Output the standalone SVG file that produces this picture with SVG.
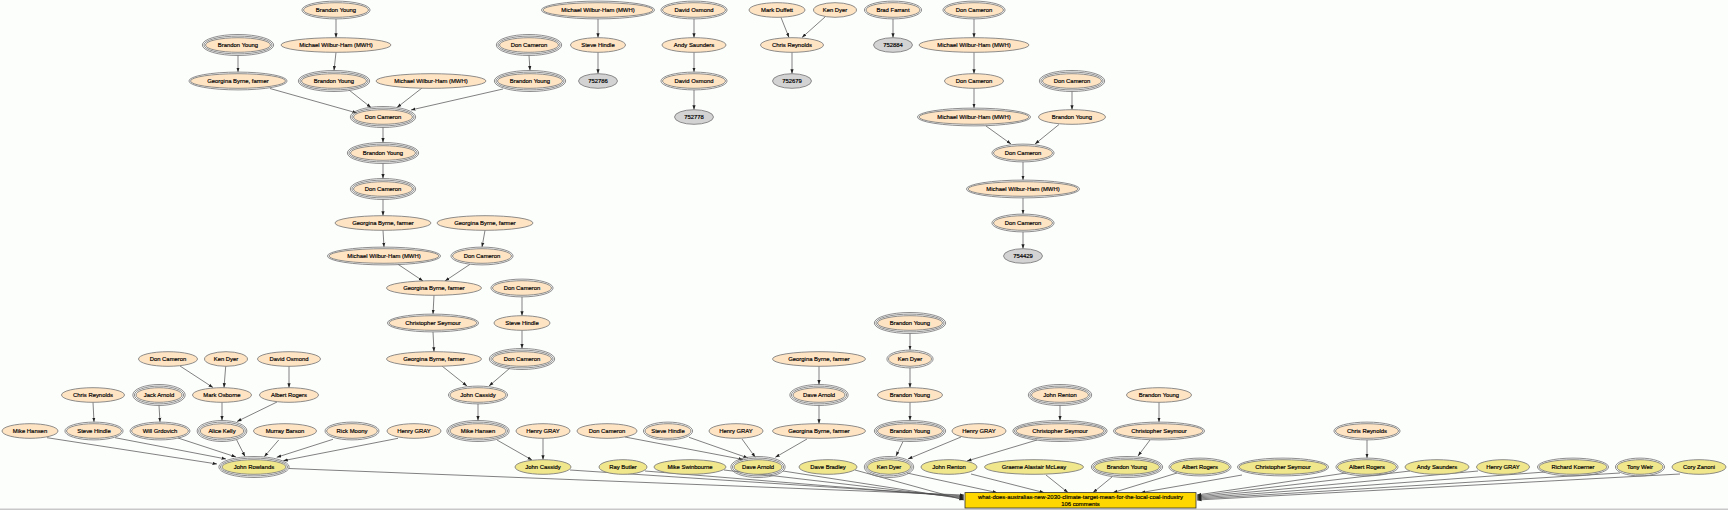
<svg xmlns="http://www.w3.org/2000/svg" width="1728" height="510" viewBox="0 0 1728 510">
<defs>
<marker id="arr" markerWidth="5" markerHeight="4" refX="4.5" refY="2" orient="auto" markerUnits="userSpaceOnUse"><path d="M0,0.4 L4.5,2 L0,3.6 z" fill="#222"/></marker>
</defs>
<style>
ellipse{stroke:#7a7a7a;stroke-width:.85}
.b ellipse{fill:#ffe4c4}
.k ellipse{fill:#f0e68c}
.g ellipse{fill:#d3d3d3}
ellipse.r{fill:none}
text{font-family:"Liberation Sans",Arial,sans-serif;font-size:5.9px;text-anchor:middle;fill:#000;stroke:#000;stroke-width:.18}
#edges path{fill:none;stroke:#4a4a4a;stroke-width:.7;marker-end:url(#arr)}
</style>
<rect width="1728" height="510" fill="#fcfefc"/>
<line x1="0" y1="509.2" x2="1728" y2="509.2" stroke="#c8c8c8" stroke-width="1.5"/>

<g id="edges">
<path d="M336,18.9 L336,37.7"/>
<path d="M336,52.3 L334,70.5"/>
<path d="M238,55.5 L238,72.1"/>
<path d="M529,55.5 L530,70.5"/>
<path d="M270,88.5 L357,113"/>
<path d="M349,90 L371,107.5"/>
<path d="M422,88 L397,107.5"/>
<path d="M503,89 L411,110"/>
<path d="M383,127.5 L383,142.5"/>
<path d="M383,163.5 L383,178.5"/>
<path d="M383,199.5 L383,215.7"/>
<path d="M383,230.3 L384,247.1"/>
<path d="M485,230.3 L482,247.1"/>
<path d="M398,264.3 L423,281"/>
<path d="M470,264.3 L445,281"/>
<path d="M434,295.3 L433,314.1"/>
<path d="M522,296.9 L522,315.7"/>
<path d="M433,331.9 L434,351.7"/>
<path d="M522,330.3 L522,348.5"/>
<path d="M442,366 L467,386"/>
<path d="M510,368 L489,386"/>
<path d="M478,403.9 L478,420.5"/>
<path d="M497,440 L532,460"/>
<path d="M543,438.3 L543,459.7"/>
<path d="M598,18.9 L598,37.7"/>
<path d="M598,52.3 L598,73.7"/>
<path d="M694,18.9 L694,37.7"/>
<path d="M694,52.3 L694,72.1"/>
<path d="M694,89.9 L694,109.7"/>
<path d="M781,17.5 L789,37.5"/>
<path d="M825,17 L802,37.5"/>
<path d="M792,52.3 L792,73.7"/>
<path d="M893,18.9 L893,37.7"/>
<path d="M974,18.9 L974,37.7"/>
<path d="M974,52.3 L974,73.7"/>
<path d="M974,88.3 L974,108.1"/>
<path d="M1072,91.5 L1072,109.7"/>
<path d="M986,126 L1011,144"/>
<path d="M1059,124.5 L1035,144"/>
<path d="M1023,161.9 L1023,180.1"/>
<path d="M1023,197.9 L1023,214.1"/>
<path d="M1023,231.9 L1023,248.7"/>
<path d="M180,366 L213,387.5"/>
<path d="M225.7,366.3 L224,387.7"/>
<path d="M289,366.3 L289,387.7"/>
<path d="M93,402.3 L94,422.1"/>
<path d="M159,405.5 L160,422.1"/>
<path d="M222,402.3 L222,420.5"/>
<path d="M277,402 L237,421.5"/>
<path d="M47,437.7 L217,464"/>
<path d="M115,437.7 L226,459"/>
<path d="M178,438 L236,457"/>
<path d="M236.7,440 L245,456.5"/>
<path d="M278.7,440 L264.3,456.7"/>
<path d="M333,439.3 L276.7,457.3"/>
<path d="M398,438.3 L283.3,460.7"/>
<path d="M819,366.3 L819,384.5"/>
<path d="M819,405.5 L819,423.7"/>
<path d="M625,437 L743,459.5"/>
<path d="M689,437.3 L748,458"/>
<path d="M742,439 L755.3,457.3"/>
<path d="M807,439 L775.3,457.3"/>
<path d="M910,333.5 L910,350.1"/>
<path d="M910,367.9 L910,387.7"/>
<path d="M910,402.3 L910,420.5"/>
<path d="M903,441.5 L896,456"/>
<path d="M961,437 L908,459"/>
<path d="M1060,405.5 L1060,420.5"/>
<path d="M1037,440 L967,461"/>
<path d="M1159,402.3 L1159,422.1"/>
<path d="M1150,440 L1138,456"/>
<path d="M1367,439.9 L1367,458.1"/>
<path d="M289,468.5 L964,495"/>
<path d="M570,470 L964,496"/>
<path d="M645,471 L964,497"/>
<path d="M724,470 L964,498"/>
<path d="M783,471 L964,499"/>
<path d="M855,470 L964,500"/>
<path d="M907,473 L997,492.6"/>
<path d="M971,474 L1044,492.6"/>
<path d="M1046,475 L1068,492.6"/>
<path d="M1112,477 L1093,492.6"/>
<path d="M1177,473 L1113,492.6"/>
<path d="M1242,475 L1141,492.6"/>
<path d="M1346,473 L1197,495"/>
<path d="M1410,471 L1197,496"/>
<path d="M1478,471 L1197,497"/>
<path d="M1545,472 L1197,498"/>
<path d="M1620,473 L1197,499"/>
<path d="M1680,474 L1197,500"/>
</g>

<g id="a1" class="b"><ellipse cx="336" cy="10" rx="32.5" ry="7.3"/><ellipse class="r" cx="336" cy="10" rx="34.1" ry="8.9"/><text x="336" y="12">Brandon Young</text></g>
<g id="a9" class="b"><ellipse cx="598" cy="10" rx="55" ry="7.3"/><ellipse class="r" cx="598" cy="10" rx="56.6" ry="8.9"/><text x="598" y="12">Michael Wilbur-Ham (MWH)</text></g>
<g id="a14" class="b"><ellipse cx="694" cy="10" rx="31.5" ry="7.3"/><ellipse class="r" cx="694" cy="10" rx="33.1" ry="8.9"/><text x="694" y="12">David Osmond</text></g>
<g id="a18" class="b"><ellipse cx="777" cy="10" rx="28" ry="7.3"/><text x="777" y="12">Mark Duffett</text></g>
<g id="a19" class="b"><ellipse cx="835" cy="10" rx="21.5" ry="7.3"/><text x="835" y="12">Ken Dyer</text></g>
<g id="a22" class="b"><ellipse cx="893" cy="10" rx="27" ry="7.3"/><ellipse class="r" cx="893" cy="10" rx="28.6" ry="8.9"/><text x="893" y="12">Brad Farrant</text></g>
<g id="a24" class="b"><ellipse cx="974" cy="10" rx="29.5" ry="7.3"/><ellipse class="r" cx="974" cy="10" rx="31.1" ry="8.9"/><text x="974" y="12">Don Cameron</text></g>

<g id="a2" class="b"><ellipse cx="238" cy="45" rx="32.5" ry="7.3"/><ellipse class="r" cx="238" cy="45" rx="34.1" ry="8.9"/><ellipse class="r" cx="238" cy="45" rx="35.7" ry="10.5"/><text x="238" y="47">Brandon Young</text></g>
<g id="a3" class="b"><ellipse cx="336" cy="45" rx="55" ry="7.3"/><text x="336" y="47">Michael Wilbur-Ham (MWH)</text></g>
<g id="a10" class="b"><ellipse cx="529" cy="45" rx="29.5" ry="7.3"/><ellipse class="r" cx="529" cy="45" rx="31.1" ry="8.9"/><ellipse class="r" cx="529" cy="45" rx="32.7" ry="10.5"/><text x="529" y="47">Don Cameron</text></g>
<g id="a12" class="b"><ellipse cx="598" cy="45" rx="27.5" ry="7.3"/><text x="598" y="47">Steve Hindle</text></g>
<g id="a15" class="b"><ellipse cx="694" cy="45" rx="32" ry="7.3"/><text x="694" y="47">Andy Saunders</text></g>
<g id="a20" class="b"><ellipse cx="792" cy="45" rx="31.5" ry="7.3"/><text x="792" y="47">Chris Reynolds</text></g>
<g id="a23" class="g"><ellipse cx="893" cy="45" rx="19.5" ry="7.3"/><text x="893" y="47">752884</text></g>
<g id="a25" class="b"><ellipse cx="974" cy="45" rx="55" ry="7.3"/><text x="974" y="47">Michael Wilbur-Ham (MWH)</text></g>

<g id="a4" class="b"><ellipse cx="238" cy="81" rx="47.5" ry="7.3"/><ellipse class="r" cx="238" cy="81" rx="49.1" ry="8.9"/><text x="238" y="83">Georgina Byrne, farmer</text></g>
<g id="a5" class="b"><ellipse cx="334" cy="81" rx="32.5" ry="7.3"/><ellipse class="r" cx="334" cy="81" rx="34.1" ry="8.9"/><ellipse class="r" cx="334" cy="81" rx="35.7" ry="10.5"/><text x="334" y="83">Brandon Young</text></g>
<g id="a6" class="b"><ellipse cx="431" cy="81" rx="55" ry="7.3"/><text x="431" y="83">Michael Wilbur-Ham (MWH)</text></g>
<g id="a11" class="b"><ellipse cx="530" cy="81" rx="32.5" ry="7.3"/><ellipse class="r" cx="530" cy="81" rx="34.1" ry="8.9"/><ellipse class="r" cx="530" cy="81" rx="35.7" ry="10.5"/><text x="530" y="83">Brandon Young</text></g>
<g id="a13" class="g"><ellipse cx="598" cy="81" rx="19.5" ry="7.3"/><text x="598" y="83">752786</text></g>
<g id="a16" class="b"><ellipse cx="694" cy="81" rx="31.5" ry="7.3"/><ellipse class="r" cx="694" cy="81" rx="33.1" ry="8.9"/><text x="694" y="83">David Osmond</text></g>
<g id="a21" class="g"><ellipse cx="792" cy="81" rx="19.5" ry="7.3"/><text x="792" y="83">752679</text></g>
<g id="a26" class="b"><ellipse cx="974" cy="81" rx="29.5" ry="7.3"/><text x="974" y="83">Don Cameron</text></g>
<g id="a27" class="b"><ellipse cx="1072" cy="81" rx="29.5" ry="7.3"/><ellipse class="r" cx="1072" cy="81" rx="31.1" ry="8.9"/><ellipse class="r" cx="1072" cy="81" rx="32.7" ry="10.5"/><text x="1072" y="83">Don Cameron</text></g>

<g id="a7" class="b"><ellipse cx="383" cy="117" rx="29.5" ry="7.3"/><ellipse class="r" cx="383" cy="117" rx="31.1" ry="8.9"/><ellipse class="r" cx="383" cy="117" rx="32.7" ry="10.5"/><text x="383" y="119">Don Cameron</text></g>
<g id="a17" class="g"><ellipse cx="694" cy="117" rx="19.5" ry="7.3"/><text x="694" y="119">752778</text></g>
<g id="a28" class="b"><ellipse cx="974" cy="117" rx="55" ry="7.3"/><ellipse class="r" cx="974" cy="117" rx="56.6" ry="8.9"/><text x="974" y="119">Michael Wilbur-Ham (MWH)</text></g>
<g id="a29" class="b"><ellipse cx="1072" cy="117" rx="33.5" ry="7.3"/><text x="1072" y="119">Brandon Young</text></g>

<g id="a8" class="b"><ellipse cx="383" cy="153" rx="32.5" ry="7.3"/><ellipse class="r" cx="383" cy="153" rx="34.1" ry="8.9"/><ellipse class="r" cx="383" cy="153" rx="35.7" ry="10.5"/><text x="383" y="155">Brandon Young</text></g>
<g id="a30" class="b"><ellipse cx="1023" cy="153" rx="29.5" ry="7.3"/><ellipse class="r" cx="1023" cy="153" rx="31.1" ry="8.9"/><text x="1023" y="155">Don Cameron</text></g>

<g id="a35" class="b"><ellipse cx="383" cy="189" rx="29.5" ry="7.3"/><ellipse class="r" cx="383" cy="189" rx="31.1" ry="8.9"/><ellipse class="r" cx="383" cy="189" rx="32.7" ry="10.5"/><text x="383" y="191">Don Cameron</text></g>
<g id="a31" class="b"><ellipse cx="1023" cy="189" rx="55" ry="7.3"/><ellipse class="r" cx="1023" cy="189" rx="56.6" ry="8.9"/><text x="1023" y="191">Michael Wilbur-Ham (MWH)</text></g>

<g id="a36" class="b"><ellipse cx="383" cy="223" rx="48" ry="7.3"/><text x="383" y="225">Georgina Byrne, farmer</text></g>
<g id="a40" class="b"><ellipse cx="485" cy="223" rx="48" ry="7.3"/><text x="485" y="225">Georgina Byrne, farmer</text></g>
<g id="a32" class="b"><ellipse cx="1023" cy="223" rx="29.5" ry="7.3"/><ellipse class="r" cx="1023" cy="223" rx="31.1" ry="8.9"/><text x="1023" y="225">Don Cameron</text></g>

<g id="a37" class="b"><ellipse cx="384" cy="256" rx="55" ry="7.3"/><ellipse class="r" cx="384" cy="256" rx="56.6" ry="8.9"/><text x="384" y="258">Michael Wilbur-Ham (MWH)</text></g>
<g id="a41" class="b"><ellipse cx="482" cy="256" rx="29.5" ry="7.3"/><ellipse class="r" cx="482" cy="256" rx="31.1" ry="8.9"/><text x="482" y="258">Don Cameron</text></g>
<g id="a33" class="g"><ellipse cx="1023" cy="256" rx="19.5" ry="7.3"/><text x="1023" y="258">754429</text></g>

<g id="a38" class="b"><ellipse cx="434" cy="288" rx="47.5" ry="7.3"/><text x="434" y="290">Georgina Byrne, farmer</text></g>
<g id="a42" class="b"><ellipse cx="522" cy="288" rx="29.5" ry="7.3"/><ellipse class="r" cx="522" cy="288" rx="31.1" ry="8.9"/><text x="522" y="290">Don Cameron</text></g>

<g id="a39" class="b"><ellipse cx="433" cy="323" rx="44" ry="7.3"/><ellipse class="r" cx="433" cy="323" rx="45.6" ry="8.9"/><text x="433" y="325">Christopher Seymour</text></g>
<g id="a43" class="b"><ellipse cx="522" cy="323" rx="28" ry="7.3"/><text x="522" y="325">Steve Hindle</text></g>
<g id="a74" class="b"><ellipse cx="910" cy="323" rx="32.5" ry="7.3"/><ellipse class="r" cx="910" cy="323" rx="34.1" ry="8.9"/><ellipse class="r" cx="910" cy="323" rx="35.7" ry="10.5"/><text x="910" y="325">Brandon Young</text></g>

<g id="a44" class="b"><ellipse cx="168" cy="359" rx="29.5" ry="7.3"/><text x="168" y="361">Don Cameron</text></g>
<g id="a45" class="b"><ellipse cx="226" cy="359" rx="21.5" ry="7.3"/><text x="226" y="361">Ken Dyer</text></g>
<g id="a46" class="b"><ellipse cx="289" cy="359" rx="31.5" ry="7.3"/><text x="289" y="361">David Osmond</text></g>
<g id="a47" class="b"><ellipse cx="434" cy="359" rx="47.5" ry="7.3"/><text x="434" y="361">Georgina Byrne, farmer</text></g>
<g id="a48" class="b"><ellipse cx="522" cy="359" rx="29.5" ry="7.3"/><ellipse class="r" cx="522" cy="359" rx="31.1" ry="8.9"/><ellipse class="r" cx="522" cy="359" rx="32.7" ry="10.5"/><text x="522" y="361">Don Cameron</text></g>
<g id="a68" class="b"><ellipse cx="819" cy="359" rx="46.5" ry="7.3"/><text x="819" y="361">Georgina Byrne, farmer</text></g>
<g id="a75" class="b"><ellipse cx="910" cy="359" rx="21.5" ry="7.3"/><ellipse class="r" cx="910" cy="359" rx="23.1" ry="8.9"/><text x="910" y="361">Ken Dyer</text></g>

<g id="b48" class="b"><ellipse cx="93" cy="395" rx="31.5" ry="7.3"/><text x="93" y="397">Chris Reynolds</text></g>
<g id="b49" class="b"><ellipse cx="159" cy="395" rx="23" ry="7.3"/><ellipse class="r" cx="159" cy="395" rx="24.6" ry="8.9"/><ellipse class="r" cx="159" cy="395" rx="26.2" ry="10.5"/><text x="159" y="397">Jack Arnold</text></g>
<g id="b50" class="b"><ellipse cx="222" cy="395" rx="29.5" ry="7.3"/><text x="222" y="397">Mark Osborne</text></g>
<g id="b51" class="b"><ellipse cx="289" cy="395" rx="29.5" ry="7.3"/><text x="289" y="397">Albert Rogers</text></g>
<g id="b60" class="b"><ellipse cx="478" cy="395" rx="28" ry="7.3"/><ellipse class="r" cx="478" cy="395" rx="29.6" ry="8.9"/><text x="478" y="397">John Cassidy</text></g>
<g id="b69" class="b"><ellipse cx="819" cy="395" rx="26" ry="7.3"/><ellipse class="r" cx="819" cy="395" rx="27.6" ry="8.9"/><ellipse class="r" cx="819" cy="395" rx="29.2" ry="10.5"/><text x="819" y="397">Dave Arnold</text></g>
<g id="b76" class="b"><ellipse cx="910" cy="395" rx="32.5" ry="7.3"/><text x="910" y="397">Brandon Young</text></g>
<g id="b82" class="b"><ellipse cx="1060" cy="395" rx="28.5" ry="7.3"/><ellipse class="r" cx="1060" cy="395" rx="30.1" ry="8.9"/><ellipse class="r" cx="1060" cy="395" rx="31.7" ry="10.5"/><text x="1060" y="397">John Renton</text></g>
<g id="b84" class="b"><ellipse cx="1159" cy="395" rx="32.5" ry="7.3"/><text x="1159" y="397">Brandon Young</text></g>

<g id="c52" class="b"><ellipse cx="30" cy="431" rx="28" ry="7.3"/><text x="30" y="433">Mike Hansen</text></g>
<g id="c53" class="b"><ellipse cx="94" cy="431" rx="27.5" ry="7.3"/><ellipse class="r" cx="94" cy="431" rx="29.1" ry="8.9"/><text x="94" y="433">Steve Hindle</text></g>
<g id="c54" class="b"><ellipse cx="160" cy="431" rx="28.4" ry="7.3"/><ellipse class="r" cx="160" cy="431" rx="30" ry="8.9"/><text x="160" y="433">Will Grdovich</text></g>
<g id="c55" class="b"><ellipse cx="222" cy="431" rx="21.7" ry="7.3"/><ellipse class="r" cx="222" cy="431" rx="23.3" ry="8.9"/><ellipse class="r" cx="222" cy="431" rx="24.9" ry="10.5"/><text x="222" y="433">Alice Kelly</text></g>
<g id="c56" class="b"><ellipse cx="285" cy="431" rx="31.5" ry="7.3"/><text x="285" y="433">Murray Barson</text></g>
<g id="c57" class="b"><ellipse cx="352" cy="431" rx="25.4" ry="7.3"/><ellipse class="r" cx="352" cy="431" rx="27" ry="8.9"/><text x="352" y="433">Rick Moony</text></g>
<g id="c58" class="b"><ellipse cx="414" cy="431" rx="27" ry="7.3"/><text x="414" y="433">Henry GRAY</text></g>
<g id="c61" class="b"><ellipse cx="478" cy="431" rx="28" ry="7.3"/><ellipse class="r" cx="478" cy="431" rx="29.6" ry="8.9"/><ellipse class="r" cx="478" cy="431" rx="31.2" ry="10.5"/><text x="478" y="433">Mike Hansen</text></g>
<g id="c62" class="b"><ellipse cx="543" cy="431" rx="27" ry="7.3"/><text x="543" y="433">Henry GRAY</text></g>
<g id="c64" class="b"><ellipse cx="607" cy="431" rx="30" ry="7.3"/><text x="607" y="433">Don Cameron</text></g>
<g id="c65" class="b"><ellipse cx="668" cy="431" rx="23" ry="7.3"/><ellipse class="r" cx="668" cy="431" rx="24.6" ry="8.9"/><text x="668" y="433">Steve Hindle</text></g>
<g id="c66" class="b"><ellipse cx="736" cy="431" rx="27" ry="7.3"/><text x="736" y="433">Henry GRAY</text></g>
<g id="c67" class="b"><ellipse cx="819" cy="431" rx="46.5" ry="7.3"/><text x="819" y="433">Georgina Byrne, farmer</text></g>
<g id="c77" class="b"><ellipse cx="910" cy="431" rx="32.5" ry="7.3"/><ellipse class="r" cx="910" cy="431" rx="34.1" ry="8.9"/><ellipse class="r" cx="910" cy="431" rx="35.7" ry="10.5"/><text x="910" y="433">Brandon Young</text></g>
<g id="c78" class="b"><ellipse cx="979" cy="431" rx="27" ry="7.3"/><text x="979" y="433">Henry GRAY</text></g>
<g id="c83" class="b"><ellipse cx="1060" cy="431" rx="44" ry="7.3"/><ellipse class="r" cx="1060" cy="431" rx="45.6" ry="8.9"/><ellipse class="r" cx="1060" cy="431" rx="47.2" ry="10.5"/><text x="1060" y="433">Christopher Seymour</text></g>
<g id="c85" class="b"><ellipse cx="1159" cy="431" rx="44" ry="7.3"/><ellipse class="r" cx="1159" cy="431" rx="45.6" ry="8.9"/><text x="1159" y="433">Christopher Seymour</text></g>
<g id="c89" class="b"><ellipse cx="1367" cy="431" rx="31.5" ry="7.3"/><ellipse class="r" cx="1367" cy="431" rx="33.1" ry="8.9"/><text x="1367" y="433">Chris Reynolds</text></g>

<g id="d59" class="k"><ellipse cx="254" cy="467" rx="32" ry="7.3"/><ellipse class="r" cx="254" cy="467" rx="33.6" ry="8.9"/><ellipse class="r" cx="254" cy="467" rx="35.2" ry="10.5"/><text x="254" y="469">John Rowlands</text></g>
<g id="d63" class="k"><ellipse cx="543" cy="467" rx="28" ry="7.3"/><text x="543" y="469">John Cassidy</text></g>
<g id="d70" class="k"><ellipse cx="623" cy="467" rx="24" ry="7.3"/><text x="623" y="469">Ray Butler</text></g>
<g id="d71" class="k"><ellipse cx="690" cy="467" rx="36" ry="7.3"/><text x="690" y="469">Mike Swinbourne</text></g>
<g id="d72" class="k"><ellipse cx="758" cy="467" rx="24" ry="7.3"/><ellipse class="r" cx="758" cy="467" rx="25.6" ry="8.9"/><ellipse class="r" cx="758" cy="467" rx="27.2" ry="10.5"/><text x="758" y="469">Dave Arnold</text></g>
<g id="d73" class="k"><ellipse cx="828" cy="467" rx="29" ry="7.3"/><text x="828" y="469">Dave Bradley</text></g>
<g id="d79" class="k"><ellipse cx="889" cy="467" rx="21.5" ry="7.3"/><ellipse class="r" cx="889" cy="467" rx="23.1" ry="8.9"/><ellipse class="r" cx="889" cy="467" rx="24.7" ry="10.5"/><text x="889" y="469">Ken Dyer</text></g>
<g id="d80" class="k"><ellipse cx="949" cy="467" rx="28" ry="7.3"/><text x="949" y="469">John Renton</text></g>
<g id="d81" class="k"><ellipse cx="1034" cy="467" rx="49.5" ry="7.3"/><text x="1034" y="469">Graeme Alastair McLeay</text></g>
<g id="d86" class="k"><ellipse cx="1127" cy="467" rx="32.5" ry="7.3"/><ellipse class="r" cx="1127" cy="467" rx="34.1" ry="8.9"/><ellipse class="r" cx="1127" cy="467" rx="35.7" ry="10.5"/><text x="1127" y="469">Brandon Young</text></g>
<g id="d87" class="k"><ellipse cx="1200" cy="467" rx="29.5" ry="7.3"/><ellipse class="r" cx="1200" cy="467" rx="31.1" ry="8.9"/><text x="1200" y="469">Albert Rogers</text></g>
<g id="d88" class="k"><ellipse cx="1283" cy="467" rx="44" ry="7.3"/><ellipse class="r" cx="1283" cy="467" rx="45.6" ry="8.9"/><text x="1283" y="469">Christopher Seymour</text></g>
<g id="d90" class="k"><ellipse cx="1367" cy="467" rx="29.5" ry="7.3"/><ellipse class="r" cx="1367" cy="467" rx="31.1" ry="8.9"/><text x="1367" y="469">Albert Rogers</text></g>
<g id="d91" class="k"><ellipse cx="1437" cy="467" rx="32" ry="7.3"/><text x="1437" y="469">Andy Saunders</text></g>
<g id="d92" class="k"><ellipse cx="1503" cy="467" rx="26.5" ry="7.3"/><text x="1503" y="469">Henry GRAY</text></g>
<g id="d93" class="k"><ellipse cx="1573" cy="467" rx="34" ry="7.3"/><ellipse class="r" cx="1573" cy="467" rx="35.6" ry="8.9"/><text x="1573" y="469">Richard Koerner</text></g>
<g id="d94" class="k"><ellipse cx="1640" cy="467" rx="23" ry="7.3"/><ellipse class="r" cx="1640" cy="467" rx="24.6" ry="8.9"/><text x="1640" y="469">Tony Weir</text></g>
<g id="d95" class="k"><ellipse cx="1699" cy="467" rx="27" ry="7.3"/><text x="1699" y="469">Cory Zanoni</text></g>

<g id="article"><rect x="965" y="492.6" width="231" height="15.4" fill="#ffd700" stroke="#333" stroke-width=".8"/><text x="1080.5" y="498.8">what-does-australias-new-2030-climate-target-mean-for-the-local-coal-industry</text><text x="1080.5" y="505.6">106 comments</text></g>
</svg>
